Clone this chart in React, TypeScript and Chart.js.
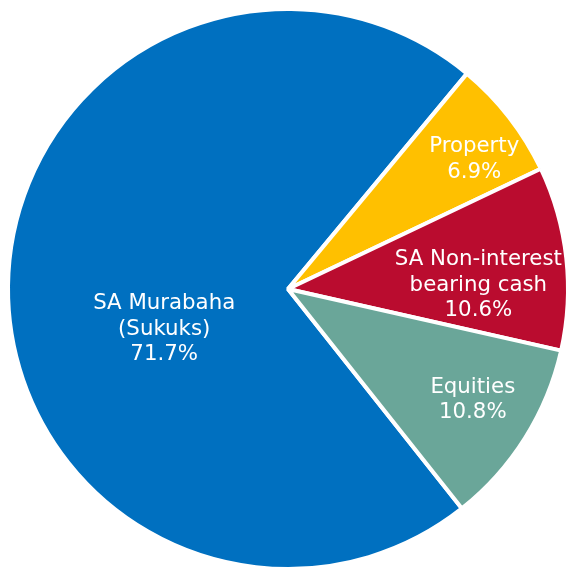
import React, { useEffect, useRef } from "react";
import { Chart, registerables } from "chart.js";

Chart.register(...registerables);

const categories = ["SA Murabaha\n(Sukuks)", "Property", "SA Non-interest\nbearing cash", "Equities"];
const shares = [71.7, 6.9, 10.6, 10.8];
const colors = ["#0070C0", "#FFC000", "#BA0C2F", "#6AA699"];
// label placement: distance from centre (fraction of radius) and angle (degrees clockwise from top)
const labelRadius = [0.465, 0.81, 0.68, 0.77];
const labelAngle = [252, 55.2, 88.8, 121];

const labelPlugin = {
  id: "sliceLabels",
  afterDatasetsDraw(chart: any) {
    const ctx = chart.ctx;
    const meta = chart.getDatasetMeta(0);
    ctx.save();
    ctx.fillStyle = "#ffffff";
    ctx.font = "21.3px 'DejaVu Sans', Verdana, sans-serif";
    ctx.textAlign = "center";
    ctx.textBaseline = "middle";
    meta.data.forEach((arc: any, i: number) => {
      const r = arc.outerRadius * labelRadius[i];
      const a = (labelAngle[i] * Math.PI) / 180;
      const cx = arc.x + r * Math.sin(a);
      const cy = arc.y - r * Math.cos(a);
      const lines = [...categories[i].split("\n"), shares[i].toFixed(1) + "%"];
      const lh = 25.5;
      const top = cy - ((lines.length - 1) * lh) / 2;
      lines.forEach((t, k) => ctx.fillText(t, cx, top + k * lh));
    });
    ctx.restore();
  },
};

export default function App() {
  const ref = useRef<HTMLCanvasElement | null>(null);
  useEffect(() => {
    document.body.style.margin = "0";
    document.body.style.overflow = "hidden";
    const chart = new Chart(ref.current as HTMLCanvasElement, {
      type: "pie",
      data: {
        labels: categories,
        datasets: [
          {
            data: shares,
            backgroundColor: colors,
            borderColor: "#ffffff",
            borderWidth: 4,
          },
        ],
      },
      options: {
        animation: false,
        responsive: false,
        rotation: 141.6,
        layout: { padding: { left: 6, top: 7, right: 10, bottom: 9 } },
        plugins: {
          legend: { display: false },
          tooltip: { enabled: false },
        },
      },
      plugins: [labelPlugin],
    });
    return () => chart.destroy();
  }, []);
  return (
    <div style={{ width: 580, height: 580 }}>
      <canvas ref={ref} width={580} height={580} style={{ display: "block" }} />
    </div>
  );
}
